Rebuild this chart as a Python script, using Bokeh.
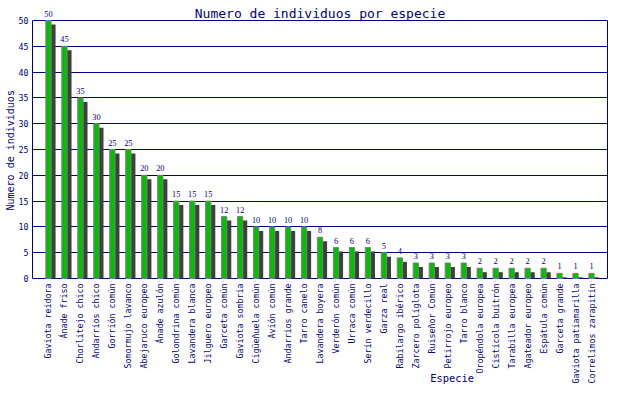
import numpy as np
from bokeh.plotting import figure
from bokeh.models import (ColumnDataSource, Range1d, FixedTicker, LabelSet, Label,
                          LinearAxis, Title)
from bokeh.transform import dodge
from bokeh.core.properties import value
from bokeh.embed import file_html
from bokeh.resources import INLINE

especies = [
    "Gaviota reidora", "Ánade friso", "Chorlitejo chico", "Andarríos chico",
    "Gorrión común", "Somormujo lavanco", "Abejaruco europeo", "Ánade azulón",
    "Golondrina común", "Lavandera blanca", "Jilguero europeo", "Garceta común",
    "Gaviota sombría", "Cigüeñuela común", "Avión común", "Andarríos grande",
    "Tarro canelo", "Lavandera boyera", "Verderón común", "Urraca común",
    "Serín verdecillo", "Garza real", "Rabilargo ibérico", "Zarcero políglota",
    "Ruiseñor Común", "Petirrojo europeo", "Tarro blanco", "Oropéndola europea",
    "Cistícola buitrón", "Tarabilla europea", "Agateador europeo", "Espátula común",
    "Garceta grande", "Gaviota patiamarilla", "Correlimos zarapitín",
]
individuos = [50, 45, 35, 30, 25, 25, 20, 20, 15, 15, 15, 12, 12, 10, 10, 10, 10, 8,
              6, 6, 6, 5, 4, 3, 3, 3, 3, 2, 2, 2, 2, 2, 1, 1, 1]
y_ticks = [0, 5, 10, 15, 20, 25, 30, 35, 40, 45, 50]

titulo = "Numero de individuos por especie"
titulo_y = "Numero de individuos"
titulo_x = "Especie"

NAVY = "#000080"
MONO = "DejaVu Sans Mono"

idx = list(range(len(especies)))
src = ColumnDataSource(dict(x=idx, y=individuos, label=[str(v) for v in individuos],
                            name=especies))

YMAX = max(y_ticks)
PX = 258 / YMAX  # pixels per unit on the value axis
p = figure(width=624, height=384, output_backend="svg", toolbar_location=None,
           x_range=Range1d(-1, len(especies)),
           y_range=Range1d(-106 / PX, YMAX + 20 / PX),
           x_axis_location=None,
           min_border_left=32, min_border_right=17, min_border_top=0,
           min_border_bottom=0)
p.title.text = ""
p.title.visible = False
p.background_fill_color = "white"
p.border_fill_color = "white"
p.outline_line_color = None

# grid
p.xgrid.grid_line_color = None
p.ygrid.ticker = FixedTicker(ticks=y_ticks)
p.ygrid.grid_line_color = NAVY
p.ygrid.grid_line_width = 1

# left axis
ya = p.left[0]
ya.ticker = FixedTicker(ticks=y_ticks)
ya.bounds = (0, YMAX)
ya.major_tick_in = 0
ya.major_tick_out = 0
ya.minor_tick_in = 0
ya.minor_tick_out = 0
ya.axis_line_color = NAVY
ya.major_label_standoff = 4
ya.major_label_text_font = MONO
ya.major_label_text_font_size = "8.3px"
ya.major_label_text_color = NAVY

# y-axis title, placed along the 0..50 span
p.add_layout(Title(text=titulo_y, align="left", offset=384 - 210, standoff=0,
                   text_font=MONO, text_font_size="10px", text_font_style="normal",
                   text_color=NAVY), "left")

# right border
ra = LinearAxis(bounds=(0, YMAX), ticker=FixedTicker(ticks=[]),
                axis_line_color=NAVY, major_tick_in=0, major_tick_out=0,
                minor_tick_in=0, minor_tick_out=0, major_label_text_font_size="0px")
p.add_layout(ra, "right")

# shadow bars
p.vbar(x=dodge("x", 0.28, range=p.x_range), top=dodge("y", -4 / PX, range=p.y_range),
       bottom=0, width=0.33, source=src, fill_color="#404040", line_color=None)
# main bars
p.vbar(x="x", top="y", bottom=0, width=0.33, source=src,
       fill_color="#00c000", line_color="#808080", line_width=1)

# value labels
p.add_layout(LabelSet(x="x", y="y", text="label", source=src, y_offset=4,
                      text_align="center", text_baseline="bottom",
                      text_font=MONO, text_font_size="8.3px", text_color=NAVY))

# category labels (vertical, under the axis)
p.text(x="x", y=0, text="name", source=src, angle=np.pi / 2, y_offset=5,
       text_align="right", text_baseline="middle", text_font=value(MONO),
       text_font_size="8.3px", text_color=NAVY)

# title and x-axis title
p.add_layout(Label(x=(len(especies) - 1) / 2, y=YMAX + 7 / PX, text=titulo,
                   text_align="center", text_baseline="alphabetic", text_font=MONO,
                   text_font_size="13px", text_color=NAVY))
p.add_layout(Label(x=25.27, y=-105 / PX, text=titulo_x,
                   text_align="center", text_baseline="bottom", text_font=MONO,
                   text_font_size="10.4px", text_color=NAVY))

open("out.html", "w").write(file_html(p, INLINE))
